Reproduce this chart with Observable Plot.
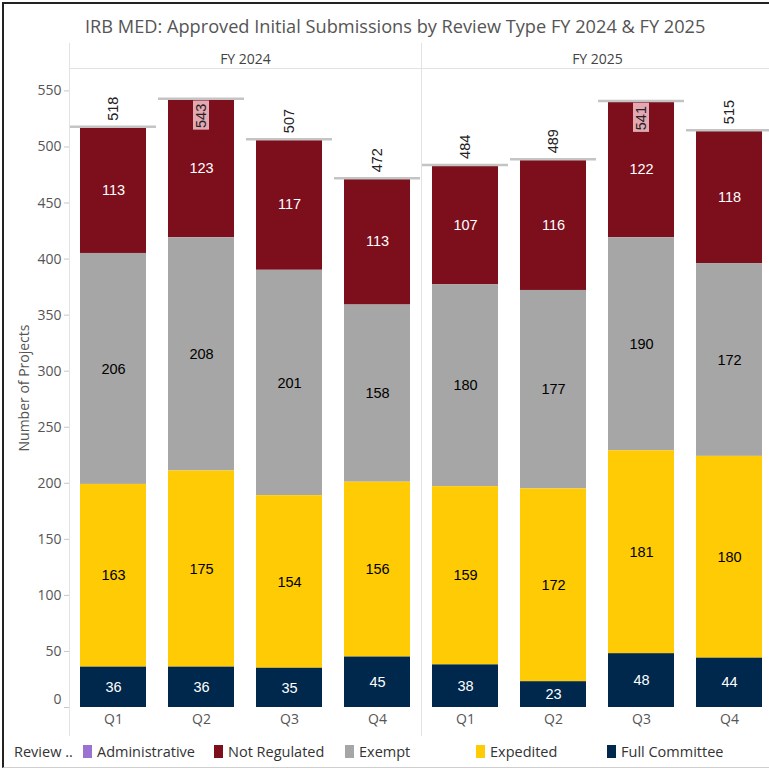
<!DOCTYPE html>
<html>
<head>
<meta charset="utf-8">
<script src="https://cdn.jsdelivr.net/npm/d3@7"></script>
<script src="https://cdn.jsdelivr.net/npm/@observablehq/plot@0.6"></script>
<style>
  body { margin: 0; width: 769px; height: 775px; overflow: hidden; background: #fff; position: relative; font-family: "Open Sans", "Liberation Sans", Arial, sans-serif; }
  #frame { position: absolute; left: 2px; top: 2px; width: 780px; height: 766px; border-left: 2px solid #222; border-top: 2px solid #222; border-bottom: 1px solid #cfcfcf; box-sizing: border-box; }
  #title { position: absolute; top: 14px; left: 85px; white-space: nowrap; font-size: 18.2px; color: #555; }
  #chart { position: absolute; left: 0; top: 40px; width: 773px; }
  #chart svg { max-width: none !important; width: 773px !important; height: 700px !important; }
  #legend { position: absolute; left: 14px; top: 741px; display: flex; align-items: center; font-size: 14.5px; color: #333; }
  #legend .lbl { width: 69px; white-space: nowrap; }
  .lg-swatches { margin: 0 !important; min-height: 20px !important; font-size: 14.5px !important; color: #333 !important; font-family: "Open Sans", "Liberation Sans", Arial, sans-serif !important; flex-wrap: nowrap !important; }
  .lg-swatch { width: 131px; margin-right: 0 !important; white-space: nowrap; }
  .lg-swatch svg { margin-right: 5px !important; }
</style>
</head>
<body>
<div id="frame"></div>
<div id="title">IRB MED: Approved Initial Submissions by Review Type FY 2024 &amp; FY 2025</div>
<div id="chart"></div>
<div id="legend"><span class="lbl">Review ..</span></div>
<script>
const years = ["FY 2024", "FY 2025"];
const quarters = ["Q1", "Q2", "Q3", "Q4"];
const types = ["Administrative", "Not Regulated", "Exempt", "Expedited", "Full Committee"];
const typeColors = ["#9b72cf", "#7d0f1d", "#a6a6a6", "#ffcb05", "#00274c"];
const stackOrder = ["Full Committee", "Expedited", "Exempt", "Not Regulated", "Administrative"];
const yTicks = [0, 50, 100, 150, 200, 250, 300, 350, 400, 450, 500, 550];

// one value per quarter: FY 2024 Q1..Q4, then FY 2025 Q1..Q4
const fullCommittee = [36, 36, 35, 45, 38, 23, 48, 44];
const expedited = [163, 175, 154, 156, 159, 172, 181, 180];
const exempt = [206, 208, 201, 158, 180, 177, 190, 172];
const notRegulated = [113, 123, 117, 113, 107, 116, 122, 118];
const administrative = [0, 1, 0, 0, 0, 1, 0, 1];
const totals = [518, 543, 507, 472, 484, 489, 541, 515];

const seriesByType = {
  "Administrative": administrative,
  "Not Regulated": notRegulated,
  "Exempt": exempt,
  "Expedited": expedited,
  "Full Committee": fullCommittee
};

const rows = [];
const totalRows = [];
for (let i = 0; i < 8; i++) {
  const fy = years[Math.floor(i / 4)];
  const q = quarters[i % 4];
  for (const t of types) rows.push({fy, q, type: t, value: seriesByType[t][i]});
  totalRows.push({fy, q, total: totals[i]});
}

const whiteText = new Set(["Full Committee", "Not Regulated"]);
const stackOpts = {fx: "fy", x: "q", y: "value", z: "type", order: stackOrder};
const yMax = 570;
const insideTotals = totalRows.filter(d => d.total > 530);
const outsideTotals = totalRows.filter(d => d.total <= 530);
const axisFont = "'Open Sans', 'Liberation Sans', Arial, sans-serif";

const chart = Plot.plot({
  width: 773,
  height: 700,
  marginLeft: 68,
  marginRight: 0,
  marginTop: 28,
  marginBottom: 33,
  style: {fontFamily: "'Liberation Sans', Arial, sans-serif", fontSize: "14px", color: "#555", background: "transparent", overflow: "visible"},
  fx: {domain: years, padding: 0},
  x: {domain: quarters, paddingInner: 0.25, paddingOuter: 0.125},
  y: {domain: [0, yMax]},
  color: {domain: types, range: typeColors},
  marks: [
    Plot.axisFx({anchor: "top", tickSize: 0, tickPadding: 5, fontSize: 14, fontFamily: axisFont, label: null, fill: "#444"}),
    Plot.axisX({tickSize: 0, tickPadding: 7, fontSize: 14, fontFamily: axisFont, label: null, fill: "#555"}),
    Plot.axisY({ticks: yTicks, tickSize: 5, tickPadding: 3, tickFormat: d => (d === 0 ? "" : d), stroke: "#c8c8c8", fill: "#555", fontSize: 14, fontFamily: axisFont, label: "Number of Projects", labelAnchor: "center", labelOffset: 50, labelArrow: "none"}),
    Plot.axisY({ticks: [0], tickSize: 0, tickPadding: 8, dy: -8, fill: "#555", fontSize: 14, fontFamily: axisFont, label: null}),
    Plot.frame({anchor: "left", stroke: "#e2e2e2", insetTop: -25, insetBottom: -28}),
    Plot.ruleY([yMax], {stroke: "#e2e2e2"}),
    Plot.barY(rows, Plot.stackY({...stackOpts, fill: "type"})),
    Plot.text(rows, Plot.filter(d => whiteText.has(d.type), Plot.stackY({...stackOpts, text: "value", fill: "white", fontSize: 14.5}))),
    Plot.text(rows, Plot.filter(d => d.type === "Exempt" || d.type === "Expedited", Plot.stackY({...stackOpts, text: "value", fill: "black", fontSize: 14.5}))),
    Plot.tickY(totalRows, {fx: "fy", x: "q", y: "total", stroke: "#c4c4c4", strokeWidth: 2.5, insetLeft: -10, insetRight: -10}),
    Plot.text(outsideTotals, {fx: "fy", x: "q", y: "total", text: "total", rotate: -90, textAnchor: "start", dy: -6, fontSize: 14.5, fill: "#222"}),
    Plot.barY(insideTotals, {fx: "fy", x: "q", y1: d => d.total - 28, y2: d => d.total - 2, fill: "#e3a8b1", insetLeft: 25, insetRight: 25}),
    Plot.text(insideTotals, {fx: "fy", x: "q", y: "total", text: "total", rotate: -90, textAnchor: "end", dy: 5, fontSize: 14.5, fill: "#222"})
  ]
});
document.getElementById("chart").appendChild(chart);

const legend = Plot.legend({
  color: {domain: types, range: typeColors},
  swatchWidth: 9,
  swatchHeight: 13,
  className: "lg"
});
document.getElementById("legend").appendChild(legend);
</script>
</body>
</html>
